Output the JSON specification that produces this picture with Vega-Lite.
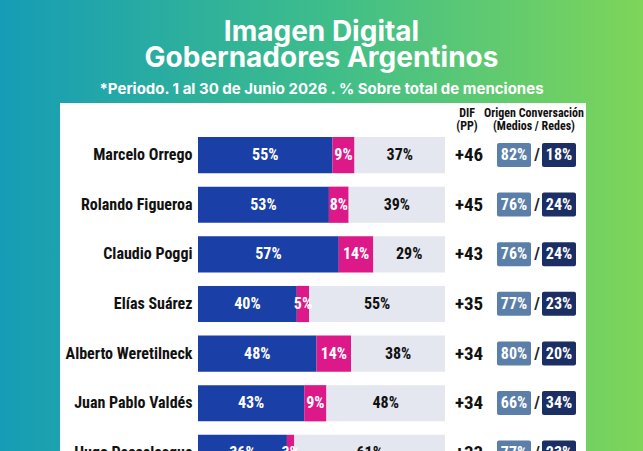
{
  "$schema": "https://vega.github.io/schema/vega-lite/v6.json",
  "width": 643,
  "height": 451,
  "autosize": "none",
  "padding": 0,
  "title": {
    "text": ["Imagen Digital", "Gobernadores Argentinos"],
    "subtitle": "*Periodo. 1 al 30 de Junio 2026 . % Sobre total de menciones",
    "frame": "group",
    "anchor": "middle",
    "offset": -97,
    "font": "Inter",
    "fontSize": 28,
    "fontWeight": 700,
    "lineHeight": 26,
    "color": "#ffffff",
    "subtitleFont": "Inter",
    "subtitleFontSize": 15,
    "subtitleFontWeight": 700,
    "subtitleColor": "#ffffff",
    "subtitlePadding": 9
  },
  "datasets": {
    "gobernadores": [
      {"name": "Marcelo Orrego", "positivo": 55, "negativo": 9, "neutral": 37, "dif": 46, "medios": 82, "redes": 18},
      {"name": "Rolando Figueroa", "positivo": 53, "negativo": 8, "neutral": 39, "dif": 45, "medios": 76, "redes": 24},
      {"name": "Claudio Poggi", "positivo": 57, "negativo": 14, "neutral": 29, "dif": 43, "medios": 76, "redes": 24},
      {"name": "Elías Suárez", "positivo": 40, "negativo": 5, "neutral": 55, "dif": 35, "medios": 77, "redes": 23},
      {"name": "Alberto Weretilneck", "positivo": 48, "negativo": 14, "neutral": 38, "dif": 34, "medios": 80, "redes": 20},
      {"name": "Juan Pablo Valdés", "positivo": 43, "negativo": 9, "neutral": 48, "dif": 34, "medios": 66, "redes": 34},
      {"name": "Hugo Passalacqua", "positivo": 36, "negativo": 3, "neutral": 61, "dif": 33, "medios": 77, "redes": 23}
    ]
  },
  "layer": [
    {
      "description": "White card behind the table",
      "data": {"values": [{}]},
      "mark": {"type": "rect", "color": "#ffffff"},
      "encoding": {
        "x": {"value": 60},
        "x2": {"value": 586},
        "y": {"value": 103},
        "y2": {"value": "height"}
      }
    },
    {
      "description": "Stacked sentiment bars with their percentage labels",
      "data": {"name": "gobernadores"},
      "transform": [
        {"fold": ["positivo", "negativo", "neutral"], "as": ["segmento", "pct"]},
        {"calculate": "indexof(['positivo','negativo','neutral'], datum.segmento)", "as": "orden"},
        {"stack": "pct", "groupby": ["name"], "sort": [{"field": "orden", "order": "ascending"}], "offset": "normalize", "as": ["x0", "x1"]},
        {"calculate": "(datum.x0 + datum.x1) / 2", "as": "xmid"},
        {"calculate": "datum.pct + '%'", "as": "etiqueta"}
      ],
      "encoding": {
        "y": {
          "field": "name",
          "type": "nominal",
          "sort": null,
          "scale": {
            "type": "band",
            "domain": ["Marcelo Orrego", "Rolando Figueroa", "Claudio Poggi", "Elías Suárez", "Alberto Weretilneck", "Juan Pablo Valdés", "Hugo Passalacqua"],
            "range": [137, 471],
            "paddingInner": 0.27,
            "paddingOuter": 0
          },
          "axis": {
            "title": null,
            "orient": "left",
            "offset": -198,
            "zindex": 1,
            "domain": false,
            "ticks": false,
            "tickSize": 0,
            "labelPadding": 6,
            "labelFont": "Roboto Condensed, Liberation Sans Narrow, DejaVu Sans Condensed, Roboto, sans-serif",
            "labelFontSize": 16,
            "labelFontWeight": "bold",
            "labelColor": "#111111",
            "labelLimit": 200
          }
        }
      },
      "layer": [
        {
          "mark": {"type": "bar"},
          "encoding": {
            "x": {"field": "x0", "type": "quantitative", "scale": {"type": "linear", "domain": [0, 1], "range": [198, 445]}, "axis": null},
            "x2": {"field": "x1"},
            "color": {
              "field": "segmento",
              "type": "nominal",
              "scale": {"domain": ["positivo", "negativo", "neutral"], "range": ["#1a3fa6", "#dd1889", "#e4e7ef"]},
              "legend": null
            }
          }
        },
        {
          "mark": {
            "type": "text",
            "font": "Roboto Condensed, Liberation Sans Narrow, DejaVu Sans Condensed, Roboto, sans-serif",
            "fontSize": 16,
            "fontWeight": "bold",
            "align": "center",
            "baseline": "middle"
          },
          "encoding": {
            "x": {"field": "xmid", "type": "quantitative", "scale": {"type": "linear", "domain": [0, 1], "range": [198, 445]}, "axis": null},
            "text": {"field": "etiqueta"},
            "color": {"condition": {"test": "datum.segmento == 'neutral'", "value": "#111111"}, "value": "#ffffff"}
          }
        }
      ]
    },
    {
      "description": "Media / social origin boxes",
      "data": {"name": "gobernadores"},
      "transform": [
        {"fold": ["medios", "redes"], "as": ["origen", "pct"]}
      ],
      "mark": {"type": "rect", "cornerRadius": 2},
      "encoding": {
        "x": {
          "field": "origen",
          "type": "nominal",
          "scale": {"type": "band", "domain": ["dif", "medios", "redes"], "range": [452, 576], "paddingInner": 0.244, "paddingOuter": 0},
          "axis": null
        },
        "y": {
          "field": "name",
          "type": "nominal",
          "sort": null,
          "scale": {
            "type": "band",
            "domain": ["Marcelo Orrego", "Rolando Figueroa", "Claudio Poggi", "Elías Suárez", "Alberto Weretilneck", "Juan Pablo Valdés", "Hugo Passalacqua"],
            "range": [143, 464.6],
            "paddingInner": 0.516,
            "paddingOuter": 0
          },
          "axis": null
        },
        "color": {
          "field": "origen",
          "type": "nominal",
          "scale": {"domain": ["medios", "redes"], "range": ["#5b7fa9", "#1c2f64"]},
          "legend": null
        }
      }
    },
    {
      "description": "DIF column, origin percentages and column headers",
      "layer": [
        {
          "data": {"name": "gobernadores"},
          "mark": {
            "type": "text",
            "font": "Roboto Condensed, Liberation Sans Narrow, DejaVu Sans Condensed, Roboto, sans-serif",
            "fontSize": 19,
            "fontWeight": "bold",
            "color": "#111111",
            "baseline": "middle"
          },
          "encoding": {
            "x": {
              "datum": "dif",
              "type": "nominal",
              "scale": {"type": "band", "domain": ["dif", "medios", "redes"], "range": [452, 576], "paddingInner": 0.244, "paddingOuter": 0},
              "axis": null
            },
            "y": {
              "field": "name",
              "type": "nominal",
              "sort": null,
              "scale": {
                "type": "band",
                "domain": ["Marcelo Orrego", "Rolando Figueroa", "Claudio Poggi", "Elías Suárez", "Alberto Weretilneck", "Juan Pablo Valdés", "Hugo Passalacqua"],
                "range": [137, 471],
                "paddingInner": 0.27,
                "paddingOuter": 0
              },
              "axis": null
            },
            "text": {"field": "dif", "type": "quantitative", "format": "+d"}
          }
        },
        {
          "data": {"name": "gobernadores"},
          "transform": [
            {"fold": ["medios", "redes"], "as": ["origen", "pct"]},
            {"calculate": "datum.pct + '%'", "as": "etiqueta"}
          ],
          "mark": {
            "type": "text",
            "font": "Roboto Condensed, Liberation Sans Narrow, DejaVu Sans Condensed, Roboto, sans-serif",
            "fontSize": 16,
            "fontWeight": "bold",
            "color": "#ffffff",
            "baseline": "middle"
          },
          "encoding": {
            "x": {"field": "origen", "type": "nominal", "axis": null},
            "y": {"field": "name", "type": "nominal", "sort": null, "axis": null},
            "text": {"field": "etiqueta"}
          }
        },
        {
          "data": {"name": "gobernadores"},
          "mark": {
            "type": "text",
            "font": "Roboto Condensed, Liberation Sans Narrow, DejaVu Sans Condensed, Roboto, sans-serif",
            "fontSize": 17,
            "fontWeight": "bold",
            "color": "#222222",
            "baseline": "middle",
            "align": "center",
            "dx": -5
          },
          "encoding": {
            "x": {"datum": "redes", "type": "nominal", "bandPosition": 0, "axis": null},
            "y": {"field": "name", "type": "nominal", "sort": null, "axis": null},
            "text": {"value": "/"}
          }
        },
        {
          "data": {"values": [{}]},
          "mark": {
            "type": "text",
            "font": "Roboto Condensed, Liberation Sans Narrow, DejaVu Sans Condensed, Roboto, sans-serif",
            "fontSize": 12,
            "fontWeight": "bold",
            "color": "#111111",
            "baseline": "top",
            "align": "center",
            "lineHeight": 13,
            "dx": -2
          },
          "encoding": {
            "x": {"datum": "dif", "type": "nominal", "axis": null},
            "y": {"value": 108},
            "text": {"value": ["DIF", "(PP)"]}
          }
        },
        {
          "data": {"values": [{}]},
          "mark": {
            "type": "text",
            "font": "Roboto Condensed, Liberation Sans Narrow, DejaVu Sans Condensed, Roboto, sans-serif",
            "fontSize": 12,
            "fontWeight": "bold",
            "color": "#111111",
            "baseline": "top",
            "align": "center",
            "lineHeight": 13,
            "dx": -8
          },
          "encoding": {
            "x": {"datum": "redes", "type": "nominal", "bandPosition": 0, "axis": null},
            "y": {"value": 108},
            "text": {"value": ["Origen Conversación", "(Medios / Redes)"]}
          }
        }
      ]
    }
  ],
  "resolve": {"scale": {"x": "independent", "y": "independent", "color": "independent"}},
  "config": {
    "view": {
      "stroke": null,
      "fill": {
        "gradient": "linear",
        "x1": 0, "y1": 0, "x2": 1, "y2": 0,
        "stops": [
          {"offset": 0, "color": "#169cb6"},
          {"offset": 0.5, "color": "#3dbd8b"},
          {"offset": 1, "color": "#7ed559"}
        ]
      }
    }
  }
}
